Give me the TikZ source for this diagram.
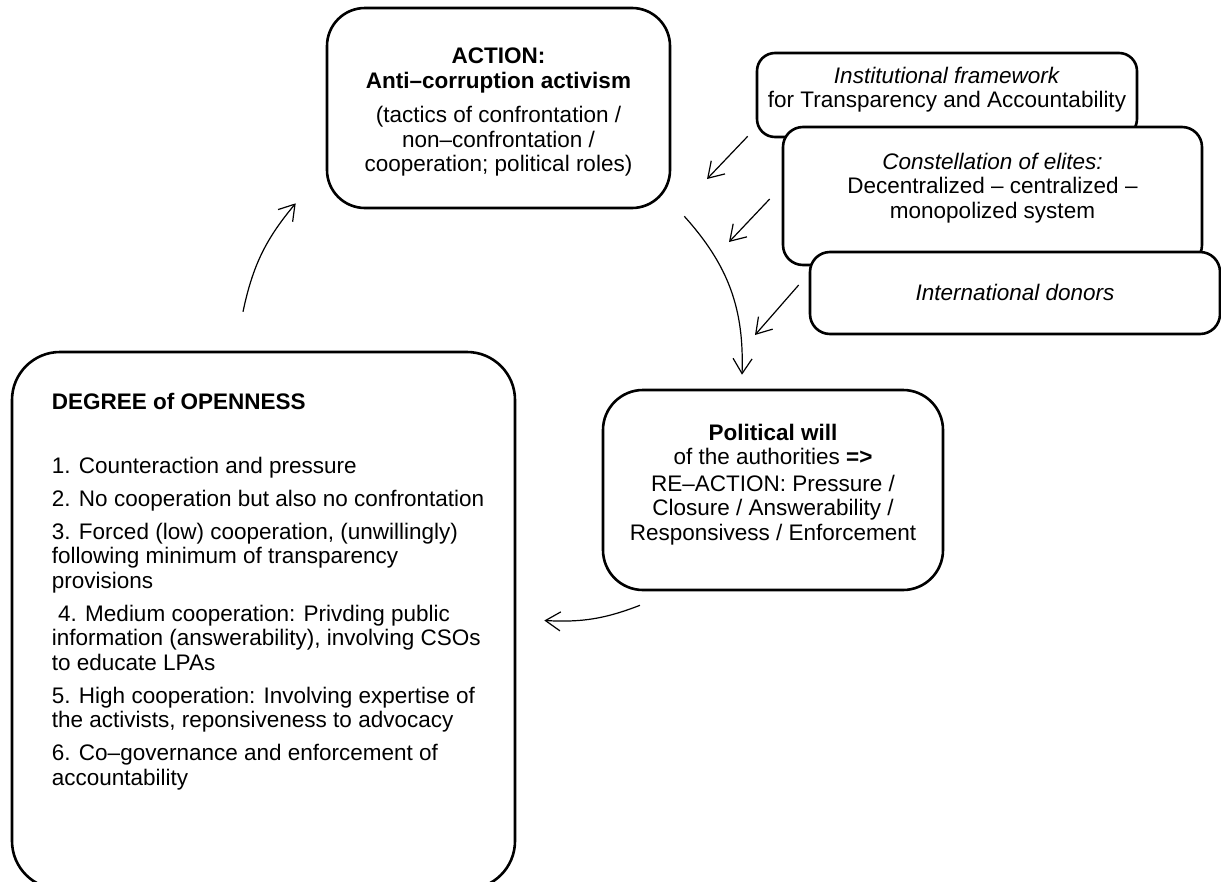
\documentclass[tikz,border=0pt]{standalone}
\usepackage{fontspec}
\setmainfont{Liberation Sans}
\usetikzlibrary{positioning,arrows.meta}

\begin{document}
\begin{tikzpicture}[x=1pt,y=-1pt,
	box/.style={draw,line width=2.6pt,rounded corners=#1,inner sep=0pt},
	box/.default=20pt,
	txt/.style={inner sep=0pt,align=center,font=\fontsize{22.5}{24.5}\selectfont},
	arr/.style={line width=1.2pt,-{Straight Barb[length=15pt,width=19pt,line width=1.2pt]}}]
		%%%%% START %%%%%
		\clip (0,0) rectangle (1221,881);
		
		\node[box=38pt, minimum width=343pt, minimum height=200pt] (act) at (498.5,108) {};
		\node[txt, below=41pt of act.north] (acttxt) {\textbf{ACTION:}\\ \textbf{Anti–corruption activism}\\[10pt] (tactics of confrontation /\\ non–confrontation /\\ cooperation; political roles)};
		
		\node[box=18pt, minimum width=380pt, minimum height=84pt] (inst) at (947,95) {};
		\node[txt, below=15pt of inst.north] (insttxt) {\textit{Institutional framework}\\ for Transparency and Accountability};
		
		\node[box, fill=white, minimum width=419pt, minimum height=138pt] (elite) at (992.5,196) {};
		\node[txt, below=27pt of elite.north] (elitetxt) {\textit{Constellation of elites:}\\ Decentralized – centralized –\\ monopolized system};
		
		\node[box, fill=white, minimum width=410pt, minimum height=82pt] (donor) at (1015,293) {};
		\node[txt, below=33pt of donor.north] (donortxt) {\textit{International donors}};
		
		\node[box=40pt, minimum width=340pt, minimum height=200pt] (will) at (773,490) {};
		\node[txt, below=35pt of will.north] (willtxt) {\textbf{Political will}\\ of the authorities \textbf{=>}\\[2pt] RE–ACTION: Pressure /\\ Closure / Answerability /\\ Responsivess / Enforcement};
		
		\node[box=48pt, minimum width=503pt, minimum height=537pt] (degree) at (263.5,620.5) {};
		\node[txt, align=left, below right=42pt and 41pt of degree.north west] (degtxt) {\textbf{DEGREE of OPENNESS}\\[39.5pt]
			1. Counteraction and pressure\\[8.5pt]
			2. No cooperation but also no confrontation\\[8.5pt]
			3. Forced (low) cooperation, (unwillingly)\\
			following minimum of transparency\\
			provisions\\[8.5pt]
			\ 4. Medium cooperation: Privding public\\
			information (answerability), involving CSOs\\
			to educate LPAs\\[8.5pt]
			5. High cooperation: Involving expertise of\\
			the activists, reponsiveness to advocacy\\[8.5pt]
			6. Co–governance and enforcement of\\
			accountability};
		
		% cycle
		\coordinate (upTail) at ([xshift=-20.5pt,yshift=39pt]degree.north);
		\coordinate (upTip) at ([xshift=-30pt,yshift=6pt]act.south west);
		\draw[arr] (upTail) to[bend left=14] (upTip);
		
		\coordinate (downTail) at ([xshift=13pt,yshift=-7pt]act.south east);
		\coordinate (downTip) at ([xshift=-31pt,yshift=14pt]will.north);
		\draw[arr] (downTail) to[bend left=22] (downTip);
		
		\coordinate (backTail) at ([xshift=-133pt,yshift=-14pt]will.south);
		\coordinate (backTip) at ([xshift=28pt]degree.east);
		\draw[arr] (backTail) to[bend left=12] (backTip);
		
		% context factors
		\coordinate (instTip) at (707,179);
		\coordinate (eliteTip) at (729,242);
		\coordinate (donorTip) at (755,335);
		\draw[arr] ([xshift=-8pt,yshift=2pt]inst.south west) -- (instTip);
		\draw[arr] ([xshift=-12pt,yshift=-3pt]elite.west) -- (eliteTip);
		\draw[arr] ([xshift=-10pt,yshift=8pt]donor.west) -- (donorTip);
		
		%%%%% END %%%%%
	\end{tikzpicture}
\end{document}
